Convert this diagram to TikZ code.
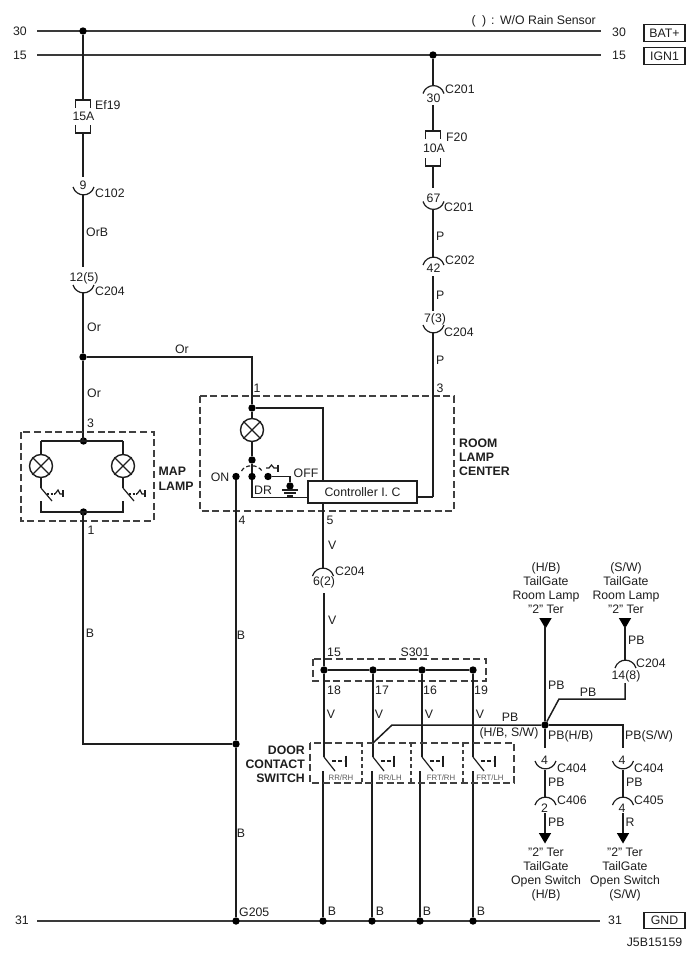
\documentclass[tikz,border=0pt]{standalone}
\usepackage{fontspec}
\setmainfont{Liberation Sans}
\definecolor{ink}{HTML}{1E1E1E}
\definecolor{busgray}{HTML}{3A3A3A}
\tikzset{
  wire/.style={draw=ink,line width=1.5pt},
  buswire/.style={draw=busgray,line width=1.6pt},
  thin wire/.style={draw=ink,line width=1.2pt},
  dotn/.style={circle,fill=black,inner sep=0pt,minimum size=7.4pt},
  lbl/.style={inner sep=0pt,text=ink,font=\fontsize{12.3}{14}\selectfont},
  lblw/.style={lbl,anchor=west},
  multi/.style={lbl,align=center},
  boldlbl/.style={inner sep=0pt,text=ink,font=\fontsize{12.3}{14}\selectfont\bfseries},
  tiny lbl/.style={inner sep=0pt,text=black!65,font=\fontsize{7.8}{8}\selectfont},
  dashbox/.style={draw=black!75,line width=1.4pt,dash pattern=on 7pt off 3.6pt},
  tagbox/.style={draw=ink,line width=1.3pt,inner sep=0pt,minimum width=41pt,minimum height=16.5pt,text=ink,font=\fontsize{12.3}{14}\selectfont},
  ctrlbox/.style={draw=ink,fill=white,line width=1.4pt,inner sep=0pt,minimum width=109pt,minimum height=22pt,text=ink,font=\fontsize{12.3}{14}\selectfont},
  lampn/.style={circle,draw=ink,line width=1.4pt,inner sep=0pt,minimum size=23pt},
  headtip/.style={fill=black,draw=none},
}
\newcommand{\smileconn}[2]{\draw[thin wire] ({#1-10.5},#2) .. controls ({#1-7},{#2+10.5}) and ({#1+7},{#2+10.5}) .. ({#1+10.5},#2);}
\newcommand{\frownconn}[2]{\draw[thin wire] ({#1-10.5},#2) .. controls ({#1-7},{#2-10.5}) and ({#1+7},{#2-10.5}) .. ({#1+10.5},#2);}
\newcommand{\fusepart}[4]{% name, x, top, bottom
  \coordinate (#1t) at (#2,#3); \coordinate (#1b) at (#2,#4);
  \draw[thin wire] ({#2-7.5},{#3+8}) -- ({#2-7.5},#3) -- ({#2+7.5},#3) -- ({#2+7.5},{#3+8});
  \draw[thin wire] ({#2-7.5},{#4-8}) -- ({#2-7.5},#4) -- ({#2+7.5},#4) -- ({#2+7.5},{#4-8});}
\newcommand{\lampcross}[3]{% name, x, y
  \node[lampn] (#1) at (#2,#3) {};
  \draw[thin wire] (#1.45) -- (#1.225) (#1.135) -- (#1.315);}
\newcommand{\maplampsw}[1]{% x of wire
  \draw[thin wire] (#1,488) -- ({#1+11},501);
  \draw[thin wire,dash pattern=on 2pt off 1.5pt] ({#1+6},494) -- ({#1+14},494);
  \draw[thin wire] ({#1+14},494) -- ({#1+17},490) -- ({#1+19},494) -- ({#1+22},494);
  \draw[thin wire] ({#1+22},490) -- ({#1+22},497);}
\newcommand{\doorsw}[2]{% x of wire, x of tick
  \draw[thin wire] (#1,757) -- ({#1+11},771);
  \draw[thin wire,dash pattern=on 3.5pt off 2.5pt] ({#1+8},761) -- ({#2-2},761);
  \draw[thin wire] (#2,755.5) -- (#2,767);}
\newcommand{\downtri}[2]{\fill[headtip] ({#1-6.2},#2) -- ({#1+6.2},#2) -- (#1,{#2+10.5}) -- cycle;}
\begin{document}
\begin{tikzpicture}[x=1pt,y=-1pt]
\path[use as bounding box] (0,0) rectangle (700,963);

% ---- buses
\coordinate (b30l) at (37,31); \coordinate (b30r) at (601,31);
\coordinate (b15l) at (37,55); \coordinate (b15r) at (601,55);
\coordinate (b31l) at (37,921); \coordinate (b31r) at (600,921);
\draw[buswire] (b30l) -- (b30r);
\draw[buswire] (b15l) -- (b15r);
\draw[buswire] (b31l) -- (b31r);
\node[lbl] (t30l) at (20,31) {30};
\node[lbl] (t15l) at (20,55) {15};
\node[lbl] (t31l) at (22,920) {31};
\node[lbl] (t30r) at (619,32) {30};
\node[lbl] (t15r) at (619,55) {15};
\node[lbl] (t31r) at (615,920) {31};
\node[tagbox] (bat) at (664.5,33) {BAT+};
\node[tagbox] (ign) at (664.5,56) {IGN1};
\node[tagbox] (gnd) at (664.5,920.5) {GND};
\node[lbl,anchor=east] (rain) at (596,21) {(\hspace{3pt} )\hspace{1.5pt} : \hspace{1pt}W/O Rain Sensor};
\node[lbl] (code) at (654.5,942) {J5B15159};

% ---- dots
\node[dotn] (d30) at (83,31) {};
\node[dotn] (d15) at (433,55) {};
\node[dotn] (dor) at (83,357) {};
\node[dotn] (mt) at (83.5,441) {};
\node[dotn] (mb) at (83.5,512) {};
\node[dotn] (rt) at (252,408) {};
\node[dotn] (rm) at (252,460) {};
\node[dotn] (ron) at (236,476.5) {};
\node[dotn] (rdr) at (252,476.5) {};
\node[dotn] (roff) at (268,476.5) {};
\node[dotn] (rg) at (290,486) {};
\node[dotn] (dg) at (236,744) {};
\node[dotn] (g1) at (236,921) {};
\node[dotn] (g2) at (323,921) {};
\node[dotn] (g3) at (372,921) {};
\node[dotn] (g4) at (420,921) {};
\node[dotn] (g5) at (473,921) {};
\node[dotn] (s1) at (324,670) {};
\node[dotn] (s2) at (373,670) {};
\node[dotn] (s3) at (422,670) {};
\node[dotn] (s4) at (473,670) {};
\node[dotn] (pb) at (545,725) {};

% ---- left column
\fusepart{fa}{83}{100}{133}
\node[lbl] (f15) at (83.5,116) {15A};
\node[lblw] (ef19) at (95,105) {Ef19};
\coordinate (c102t) at (83,177); \coordinate (c102b) at (83,195);
\smileconn{83.5}{187}
\node[lbl] (n9) at (83,185) {9};
\node[lblw] (c102) at (95,193) {C102};
\node[lblw] (orb) at (86,232) {OrB};
\coordinate (c204t) at (83,267); \coordinate (c204b) at (83,293);
\smileconn{83.5}{285}
\node[lbl] (n125) at (84,278) {12(5)};
\node[lblw] (c204a) at (95,291) {C204};
\node[lblw] (or1) at (87,327) {Or};
\node[lbl] (or2) at (182,349) {Or};
\node[lblw] (or3) at (87,393) {Or};
\coordinate (mtw) at (83,441);
\draw[wire] (d30) -- (fat);
\draw[wire] (fab) -- (c102t);
\draw[wire] (c102b) -- (c204t);
\draw[wire] (c204b) -- (dor);
\draw[wire] (dor) -- (mtw);
\draw[wire] (dor) -| (rt);

% ---- map lamp
\node[lblw] (n3m) at (87,423) {3};
\draw[dashbox] (21,432) rectangle (154,521);
\lampcross{la}{41}{466}
\lampcross{lb}{123}{466}
\coordinate (mtl) at (41,441); \coordinate (mtr) at (123,441);
\coordinate (mbl) at (41,512); \coordinate (mbr) at (123,512);
\coordinate (mal) at (41,501); \coordinate (mar) at (123,501);
\coordinate (swa) at (41,488); \coordinate (swb) at (123,488);
\draw[wire] (mtl) -- (mtr);
\draw[wire] (mtl) -- (la);
\draw[wire] (mtr) -- (lb);
\draw[wire] (la) -- (swa);
\draw[wire] (lb) -- (swb);
\draw[wire] (mal) -- (mbl) -- (mbr) -- (mar);
\maplampsw{41}
\maplampsw{123}
\node[boldlbl,anchor=west] (mapt) at (158.5,471) {MAP};
\node[boldlbl,anchor=west] (lampt) at (158.5,486) {LAMP};
\node[lbl] (n1m) at (91,530) {1};
\node[lbl] (bm) at (90,633) {B};
\coordinate (mbw) at (83,512);
\draw[wire] (mbw) |- (dg);

% ---- room lamp centre
\node[lbl] (n1r) at (257,388) {1};
\node[lbl] (n3r) at (440,388) {3};
\draw[dashbox] (200,396) rectangle (454,511);
\node[boldlbl,anchor=west] (room1) at (459,443) {ROOM};
\node[boldlbl,anchor=west] (room2) at (459,457) {LAMP};
\node[boldlbl,anchor=west] (room3) at (459,471) {CENTER};
\lampcross{lc}{252}{430}
\node[ctrlbox] (ctrl) at (362.5,492) {Controller I. C};
\coordinate (rtr) at (323,408);
\coordinate (cin) at (323,481);
\draw[wire] (rt) -- (rtr) -- (cin);
\draw[wire] (rt) -- (lc);
\draw[wire] (lc) -- (rm);
\draw[wire] (rm) -- (rdr);
% dashed switch arc and its actuator
\draw[thin wire,dash pattern=on 4pt off 2.5pt] (241.5,471) .. controls (245,464) and (258,464) .. (262,471);
\draw[thin wire] (266,468) -- (269,468) -- (271.5,465) -- (274,468) -- (278,468);
\draw[thin wire] (278,464.5) -- (278,472);
\node[lbl] (ton) at (220,477) {ON};
\node[lbl] (tdr) at (263,490) {DR};
\node[lbl] (toff) at (306,473.5) {OFF};
\coordinate (offc) at (290,476.5);
\draw[wire] (roff) -- (offc) -- (rg);
\draw[wire] (rg) -- (290,489);
\draw[wire] (282,490) -- (298,490);
\draw[thin wire] (284,493) -- (296,493);
\draw[thin wire] (287,496) -- (293,496);
\coordinate (drc) at (252,497.5);
\coordinate (cdr) at (308,497.5);
\draw[wire] (rdr) -- (drc) -- (cdr);
\coordinate (cout) at (417,497);
\coordinate (rcor) at (433,497);
\draw[wire] (cout) -- (rcor);
\node[lbl] (n4) at (242,520) {4};
\node[lbl] (n5) at (330,520) {5};
\draw[wire] (ron) -- (dg);
\draw[wire] (dg) -- (g1);
\node[lbl] (b2) at (241,635) {B};
\node[lbl] (b3) at (241,833) {B};
\node[lblw] (g205) at (239,912.5) {G205};

% ---- right column (IGN1)
\frownconn{433.5}{93.5}
\node[lbl] (n30) at (433.5,98) {30};
\node[lblw] (c201a) at (445,89) {C201};
\fusepart{fb}{433}{131}{166}
\node[lbl] (t10) at (434,148) {10A};
\node[lblw] (f20) at (446,137) {F20};
\coordinate (c30t) at (433,86);
\coordinate (c30b) at (433,105);
\draw[wire] (d15) -- (c30t);
\draw[wire] (c30b) -- (fbt);
\coordinate (c67t) at (433,188); \coordinate (c67b) at (433,209);
\draw[wire] (fbb) -- (c67t);
\smileconn{433.5}{201.5}
\node[lbl] (n67) at (433.5,198) {67};
\node[lblw] (c201b) at (444,207) {C201};
\node[lblw] (p1) at (436,236) {P};
\coordinate (c42t) at (433,257); \coordinate (c42b) at (433,276);
\draw[wire] (c67b) -- (c42t);
\frownconn{433.5}{265}
\node[lbl] (n42) at (433.5,268) {42};
\node[lblw] (c202) at (445,260) {C202};
\node[lblw] (p2) at (436,295) {P};
\coordinate (c73t) at (433,311); \coordinate (c73b) at (433,333);
\draw[wire] (c42b) -- (c73t);
\smileconn{433.5}{325}
\node[lbl] (n73) at (435,319) {7(3)};
\node[lblw] (c204b) at (444,332) {C204};
\node[lblw] (p3) at (436,360) {P};
\draw[wire] (c73b) -- (rcor);

% ---- door wire
\coordinate (cbot) at (323,503);
\coordinate (c62t) at (323,568); \coordinate (c62b) at (324,593);
\draw[wire] (cbot) -- (c62t);
\frownconn{323}{576}
\node[lbl] (n62) at (324,582) {6(2)};
\node[lblw] (c204c) at (335,571) {C204};
\node[lblw] (v0) at (328,545) {V};
\node[lblw] (v1) at (328,620) {V};
\draw[wire] (c62b) -- (s1);
\node[lbl] (n15) at (334,652) {15};
\node[lbl] (s301) at (415,652) {S301};
\draw[dashbox] (313,659) rectangle (486,681);
\draw[wire] (s1) -- (s2);
\draw[wire] (s2) -- (s3);
\draw[wire] (s3) -- (s4);
\node[lbl] (n18) at (334,690) {18};
\node[lbl] (n17) at (382,690) {17};
\node[lbl] (n16) at (430,690) {16};
\node[lbl] (n19) at (481,690) {19};
\node[lbl] (v2) at (331,714) {V};
\node[lbl] (v3) at (379,714) {V};
\node[lbl] (v4) at (429,714) {V};
\node[lbl] (v5) at (480,714) {V};
\coordinate (sa1) at (324,757); \coordinate (sa2) at (373,757);
\coordinate (sa3) at (422,757); \coordinate (sa4) at (473,757);
\draw[wire] (s1) -- (sa1);
\draw[wire] (s2) -- (sa2);
\draw[wire] (s3) -- (sa3);
\draw[wire] (s4) -- (sa4);
\doorsw{324}{346}
\doorsw{373}{394}
\doorsw{422}{443}
\doorsw{473}{495}
\coordinate (sb1) at (323,771); \coordinate (sb2) at (372,771);
\coordinate (sb3) at (420,771); \coordinate (sb4) at (473,771);
\draw[wire] (sb1) -- (g2);
\draw[wire] (sb2) -- (g3);
\draw[wire] (sb3) -- (g4);
\draw[wire] (sb4) -- (g5);
\draw[dashbox] (310,743) rectangle (514,783);
\draw[dashbox,line width=1.2pt,dash pattern=on 4pt off 3pt] (362,743) -- (362,783);
\draw[dashbox,line width=1.2pt,dash pattern=on 4pt off 3pt] (411,743) -- (411,783);
\draw[dashbox,line width=1.2pt,dash pattern=on 4pt off 3pt] (463,743) -- (463,783);
\node[tiny lbl] (rr1) at (341,778) {RR/RH};
\node[tiny lbl] (rr2) at (390,778) {RR/LH};
\node[tiny lbl] (fr1) at (441,778) {FRT/RH};
\node[tiny lbl] (fr2) at (490,778) {FRT/LH};
\node[boldlbl,anchor=east] (dc1) at (305,750) {DOOR};
\node[boldlbl,anchor=east] (dc2) at (305,764) {CONTACT};
\node[boldlbl,anchor=east] (dc3) at (305,778) {SWITCH};
\node[lbl] (b4) at (332,911) {B};
\node[lbl] (b5) at (380,911) {B};
\node[lbl] (b6) at (427,911) {B};
\node[lbl] (b7) at (481,911) {B};

% ---- PB network
\coordinate (pbs) at (373,743); \coordinate (pbk) at (392,725);
\draw[wire] (pbs) -- (pbk) -- (pb);
\node[lbl] (tpb) at (510,717) {PB};
\node[lbl] (thbsw) at (509,733) {(H/B, S/W)};
\node[lblw] (tpbhb) at (548,736) {PB(H/B)};
\node[lblw] (tpbsw) at (625,736) {PB(S/W)};
\coordinate (pbc) at (623,725); \coordinate (pbd) at (623,748);
\draw[wire] (pb) -- (pbc) -- (pbd);
% upper feeds
\node[multi] (hbtop) at (546,588) {(H/B)\\TailGate\\Room Lamp\\"2" Ter};
\node[multi] (swtop) at (626,588) {(S/W)\\TailGate\\Room Lamp\\"2" Ter};
\downtri{545.5}{618}
\downtri{625}{618}
\coordinate (trA) at (545,626); \coordinate (trB) at (625,626);
\draw[wire] (trA) -- (pb);
\node[lblw] (tpb2) at (548,685) {PB};
\coordinate (c148t) at (625,660); \coordinate (c148b) at (625,683);
\draw[wire] (trB) -- (c148t);
\frownconn{625.5}{668}
\node[lblw] (tpb3) at (628,640) {PB};
\node[lblw] (c204d) at (636,663) {C204};
\node[lbl] (n148) at (626,676) {14(8)};
\coordinate (bendA) at (625,699); \coordinate (bendB) at (559,699);
\draw[wire] (c148b) -- (bendA) -- (bendB) -- (pb);
\node[lbl] (tpb4) at (588,692) {PB};
% lower-left
\coordinate (c44t) at (545,748); \coordinate (c44b) at (545,770);
\draw[wire] (pb) -- (c44t);
\smileconn{545.5}{761}
\node[lbl] (n4a) at (544.5,760) {4};
\node[lblw] (c404a) at (557,768) {C404};
\node[lblw] (tpb5) at (548,782) {PB};
\coordinate (c2t) at (545,797); \coordinate (c2b) at (545,813);
\draw[wire] (c44b) -- (c2t);
\frownconn{545.5}{805}
\node[lbl] (n2) at (544.5,808) {2};
\node[lblw] (c406) at (557,800) {C406};
\node[lblw] (tpb6) at (548,822) {PB};
\coordinate (arA) at (545,835);
\draw[wire] (c2b) -- (arA);
\downtri{545}{833}
\node[multi] (hbbot) at (546,874.5) {"2" Ter\\TailGate\\Open Switch\\(H/B)};
% lower-right
\coordinate (pbe) at (623,770);
\draw[wire] (pbd) -- (623,748);
\smileconn{623}{761}
\node[lbl] (n4b) at (622,760) {4};
\node[lblw] (c404b) at (634,768) {C404};
\node[lblw] (tpb7) at (626,782) {PB};
\coordinate (c4t) at (623,797); \coordinate (c4b) at (623,813);
\draw[wire] (pbe) -- (c4t);
\frownconn{623}{805}
\node[lbl] (n4c) at (622,808) {4};
\node[lblw] (c405) at (634,800) {C405};
\node[lblw] (tr) at (625.5,822) {R};
\coordinate (arB) at (623,835);
\draw[wire] (c4b) -- (arB);
\downtri{623}{833}
\node[multi] (swbot) at (625,874.5) {"2" Ter\\TailGate\\Open Switch\\(S/W)};
\end{tikzpicture}
\end{document}
